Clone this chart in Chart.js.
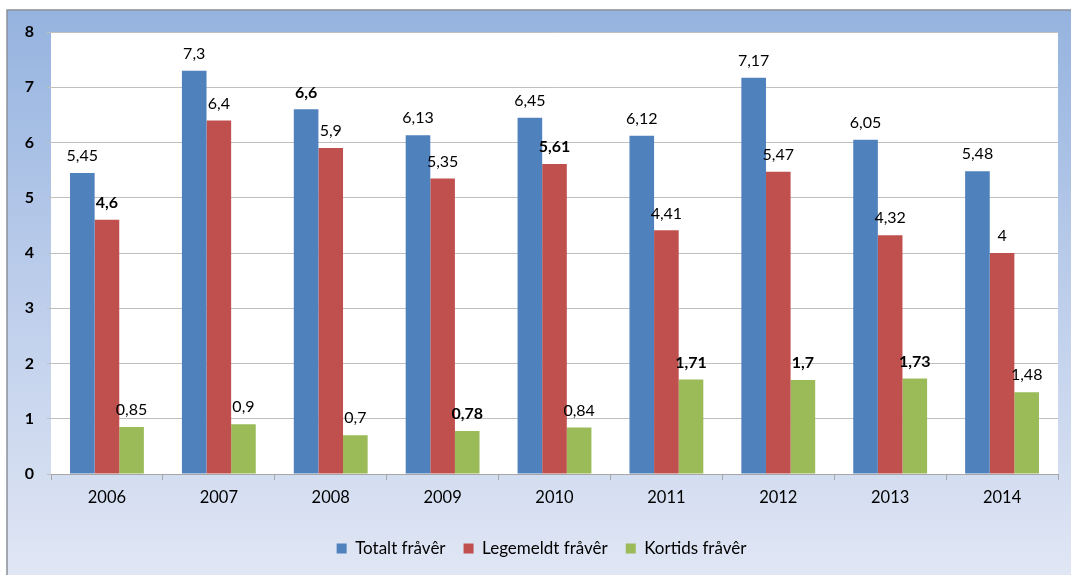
<!DOCTYPE html>
<html>
<head>
<meta charset="utf-8">
<script src="https://cdn.jsdelivr.net/npm/chart.js@4.4.1/dist/chart.umd.min.js"></script>
<style>
  html, body { margin: 0; padding: 0; background: #fff; }
  #wrap { width: 1071px; height: 575px; position: relative; }
</style>
</head>
<body>
<div id="wrap"><canvas id="myChart" width="1071" height="575"></canvas></div>
<script>
// years on the x axis
const years = ['2006', '2007', '2008', '2009', '2010', '2011', '2012', '2013', '2014'];

// series values
const totalt = [5.45, 7.3, 6.6, 6.13, 6.45, 6.12, 7.17, 6.05, 5.48];
const legemeldt = [4.6, 6.4, 5.9, 5.35, 5.61, 4.41, 5.47, 4.32, 4];
const kortids = [0.85, 0.9, 0.7, 0.78, 0.84, 1.71, 1.7, 1.73, 1.48];

const seriesNames = ['Totalt fråvêr', 'Legemeldt fråvêr', 'Kortids fråvêr'];

// y axis ticks 0..8
const yTicks = [0, 1, 2, 3, 4, 5, 6, 7, 8];

// labels that look bold in the original ("dataset:index")
const boldLabels = ['1:0', '0:2', '2:3', '1:4', '2:5', '2:6', '2:7'];

const COLORS = {
  blue: '#4f81bd',
  red: '#c0504d',
  green: '#9bbb59'
};

const FONT = 'Lato, "Open Sans", sans-serif';

//frame gradient + white plot area
const backgroundPlugin = {
  id: 'frame',
  beforeDraw(chart) {
    const ctx = chart.ctx;
    const w = chart.width, h = chart.height;
    ctx.save();
    ctx.fillStyle = '#ffffff';
    ctx.fillRect(0, 0, w, h);
    let grad = ctx.createLinearGradient(0, 10, 0, h);
    grad.addColorStop(0, '#95b3df');
    grad.addColorStop(0.45, '#b9cbea');
    grad.addColorStop(1, '#e0e6f4');
    ctx.fillStyle = grad;
    ctx.fillRect(7, 10, w - 7, h - 10);
    ctx.strokeStyle = '#8c9099';
    ctx.lineWidth = 1.5;
    ctx.beginPath();
    ctx.moveTo(7, h);
    ctx.lineTo(7, 10);
    ctx.lineTo(w, 10);
    ctx.stroke();
    const a = chart.chartArea;
    ctx.fillStyle = '#ffffff';
    ctx.fillRect(a.left, a.top, a.right - a.left, a.bottom - a.top);
    ctx.restore();
  }
};

//value labels above every bar
const valueLabels = {
  id: 'valueLabels',
  afterDatasetsDraw(chart) {
    const ctx = chart.ctx;
    ctx.save();
    ctx.fillStyle = '#000';
    ctx.textAlign = 'center';
    ctx.textBaseline = 'middle';
    chart.data.datasets.forEach((ds, di) => {
      const meta = chart.getDatasetMeta(di);
      meta.data.forEach((bar, i) => {
        const bold = boldLabels.includes(di + ':' + i);
        ctx.font = (bold ? 'bold ' : '') + '16px ' + FONT;
        const txt = String(ds.data[i]).replace('.', ',');
        ctx.fillText(txt, bar.x, bar.y - 17);
      });
    });
    ctx.restore();
  }
};

const data = {
  labels: years,
  datasets: [
    { label: seriesNames[0], data: totalt, backgroundColor: COLORS.blue },
    { label: seriesNames[1], data: legemeldt, backgroundColor: COLORS.red },
    { label: seriesNames[2], data: kortids, backgroundColor: COLORS.green }
  ]
};

const config = {
  type: 'bar',
  data: data,
  options: {
    responsive: false,
    animation: false,
    // left padding 25 + y axis 26 puts the plot at x=51 and moves the legend centre right
    layout: { padding: { top: 32, right: 13, left: 25, bottom: 8 } },
    datasets: {
      bar: { categoryPercentage: 0.66, barPercentage: 1.0 }
    },
    plugins: {
      legend: {
        position: 'bottom',
        labels: {
          boxWidth: 10,
          boxHeight: 10,
          padding: 18,
          color: '#000',
          font: { family: FONT, size: 17 }
        }
      },
      tooltip: { enabled: false }
    },
    scales: {
      x: {
        grid: {
          display: true,
          drawOnChartArea: false,
          offset: true,
          tickLength: 6,
          color: '#a6a6a6'
        },
        border: { display: true, color: '#a6a6a6' },
        ticks: { color: '#000', padding: 8, font: { family: FONT, size: 16.5 } },
        afterFit(scale) { scale.height = 48; }
      },
      y: {
        min: 0,
        max: 8,
        afterBuildTicks(scale) { scale.ticks = yTicks.map(v => ({ value: v })); },
        grid: { color: '#c0c0c0', tickLength: 4 },
        border: { display: false },
        ticks: { color: '#000', padding: 13, font: { family: FONT, size: 16, weight: 'bold' } },
        afterFit(scale) { scale.width = 26; }
      }
    }
  },
  plugins: [backgroundPlugin, valueLabels]
};

const myChart = new Chart(document.getElementById('myChart'), config);
</script>
</body>
</html>
